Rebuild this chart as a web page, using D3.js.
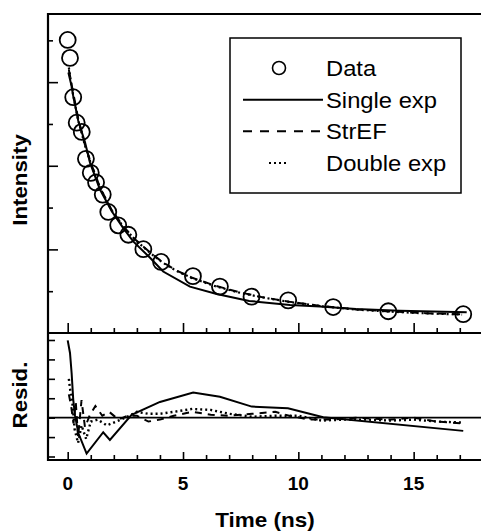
<!DOCTYPE html>
<html>
<head>
<meta charset="utf-8">
<script src="https://cdn.jsdelivr.net/npm/d3@7"></script>
<style>
  body { margin: 0; background: #fff; }
  svg { display: block; font-family: "Liberation Sans", Arial, sans-serif; }
</style>
</head>
<body>
<svg id="figur" width="481" height="532"></svg>
<script>
// measured decay (circles)
const dataTime = [0, 0.1, 0.24, 0.39, 0.61, 0.79, 1.0, 1.23, 1.52, 1.76, 2.19, 2.63, 3.28, 4.05, 5.43, 6.6, 7.97, 9.56, 11.51, 13.9, 17.15];
const dataIntensity = [7010, 6580, 5640, 5030, 4810, 4165, 3830, 3600, 3310, 2895, 2575, 2350, 2005, 1700, 1360, 1110, 870, 780, 620, 520, 450];

// fitted curves
const singleTime = [0.03, 0.17, 0.24, 0.46, 0.75, 0.97, 1.4, 1.91, 2.41, 2.84, 3.57, 4.14, 5.3, 6.46, 7.87, 9.64, 10.94, 12.5, 14.4, 17.3];
const singleIntensity = [6230, 5900, 5670, 5070, 4560, 4070, 3430, 2910, 2510, 2190, 1800, 1470, 1110, 935, 767, 671, 631, 575, 535, 496];
const fitTime = [0.05, 0.2, 0.45, 0.75, 1.0, 1.4, 1.9, 2.4, 2.9, 3.5, 4.1, 4.7, 5.4, 6.4, 7.4, 8.4, 9.6, 11.0, 12.5, 14.0, 15.5, 17.1];
const strefIntensity = [6300, 5850, 5150, 4500, 4080, 3480, 2950, 2560, 2250, 1960, 1700, 1500, 1320, 1130, 980, 860, 750, 645, 565, 515, 475, 445];
const doubleIntensity = [6350, 5800, 5100, 4480, 4060, 3470, 2940, 2550, 2240, 1950, 1690, 1490, 1310, 1120, 970, 855, 745, 640, 560, 510, 470, 440];

// residuals
const residSingleTime = [0, 0.1, 0.17, 0.24, 0.32, 0.46, 0.82, 1.54, 1.83, 2.77, 4.0, 5.44, 6.6, 7.98, 9.55, 11.08, 17.15];
const residSingle = [3.98, 3.33, 2.3, 0.93, 0.09, -0.79, -1.85, -0.75, -1.15, 0.15, 0.81, 1.3, 1.08, 0.57, 0.48, 0.02, -0.68];
const residStrefTime = [0.05, 0.15, 0.25, 0.35, 0.45, 0.6, 0.75, 0.95, 1.2, 1.5, 1.8, 2.2, 2.6, 3.0, 3.5, 4.0, 4.6, 5.4, 6.2, 7.0, 8.0, 9.0, 9.6, 10.5, 11.5, 12.5, 14, 15, 16, 17.1];
const residStref = [1.2, 0.6, -0.3, 0.8, -1.0, 0.9, -0.5, 0.1, 0.6, 0.1, 0.3, -0.1, 0.1, 0.1, -0.2, -0.1, 0.1, 0.3, 0.15, 0.1, 0.2, 0.3, 0.1, -0.1, -0.1, 0.0, -0.1, 0.0, -0.2, -0.3];
const residDoubleTime = [0.05, 0.1, 0.2, 0.3, 0.45, 0.6, 0.8, 1.0, 1.3, 1.7, 2.1, 2.5, 3.0, 3.5, 4.0, 4.6, 5.4, 6.2, 7.0, 8.0, 9.0, 10.0, 11.0, 12.0, 13.0, 14.0, 15.0, 16.0, 17.1];
const residDouble = [2.0, 1.5, 0.8, -0.6, -1.3, -0.4, -1.1, -0.2, -0.1, -0.4, -0.2, 0.0, 0.3, 0.2, 0.2, 0.3, 0.45, 0.4, 0.2, 0.05, 0.1, 0.1, -0.15, -0.1, -0.1, -0.15, -0.1, -0.2, -0.25];

const xTicks = [0, 5, 10, 15];
const intensityTicks = [1000, 2000, 3000, 4000, 5000, 6000, 7000];
const residTicks = [-2, -1, 0, 1, 2, 3, 4];
const legendNames = ["Data", "Single exp", "StrEF", "Double exp"];

const svg = d3.select("#figur");
const kantV = 48, kantH = 481, kantTopp = 14, kantMidt = 333, kantBunn = 460;

const x = d3.scaleLinear().domain([-0.854, 17.92]).range([kantV, kantH]);
const y = d3.scaleLinear().domain([0, 7630]).range([kantMidt, kantTopp]);
const yr = d3.scaleLinear().domain([-2.18, 4.36]).range([kantBunn, kantMidt]);

const zip = (a, b) => a.map((v, i) => [v, b[i]]);
const line = d3.line().x(d => x(d[0])).y(d => y(d[1]));
const rline = d3.line().x(d => x(d[0])).y(d => yr(d[1]));

// the scanned lettering is a little wider than Liberation Sans
function strekk(sel, f) {
  sel.each(function() {
    const w = this.getComputedTextLength();
    d3.select(this).attr("textLength", w * f).attr("lengthAdjust", "spacingAndGlyphs");
  });
}

// ticks, all pointing inward
svg.append("g").attr("transform", `translate(0,${kantMidt})`)
  .call(d3.axisTop(x).tickValues(d3.range(0, 18)).tickSize(5).tickFormat(""))
  .call(g => g.selectAll(".tick").filter(d => d % 5 === 0).select("line").attr("y2", -10));
svg.append("g").attr("transform", `translate(0,${kantBunn})`)
  .call(d3.axisTop(x).tickValues(d3.range(0, 18)).tickSize(5).tickFormat(""))
  .call(g => g.selectAll(".tick").filter(d => d % 5 === 0).select("line").attr("y2", -8));
svg.append("g").attr("transform", `translate(${kantV},0)`)
  .call(d3.axisRight(y).tickValues(intensityTicks).tickSize(5).tickFormat(""))
  .call(g => g.selectAll(".tick").filter(d => d % 2000 === 0).select("line").attr("x2", 10));
svg.append("g").attr("transform", `translate(${kantV},0)`)
  .call(d3.axisRight(yr).tickValues(residTicks).tickSize(7).tickFormat(""));
svg.selectAll(".domain").remove();
svg.selectAll(".tick line").attr("stroke", "#000").attr("stroke-width", 1.6);

// frame
svg.append("path").attr("fill", "none").attr("stroke", "#000").attr("stroke-width", 2.2)
  .attr("d", `M${kantH},${kantTopp} H${kantV} V${kantBunn} H${kantH} M${kantV},${kantMidt} H${kantH}`);
svg.append("line").attr("x1", kantV).attr("x2", kantH).attr("y1", yr(0)).attr("y2", yr(0))
  .attr("stroke", "#000").attr("stroke-width", 1.6);

// x tick labels
svg.append("g").selectAll("text").data(xTicks).join("text")
  .attr("x", d => x(d)).attr("y", 490).attr("text-anchor", "middle")
  .attr("font-size", 19).attr("font-weight", "bold").text(d => d);

// fits in the top panel
svg.append("path").datum(zip(fitTime, strefIntensity)).attr("d", line)
  .attr("fill", "none").attr("stroke", "#000").attr("stroke-width", 2).attr("stroke-dasharray", "8,6");
svg.append("path").datum(zip(fitTime, doubleIntensity)).attr("d", line)
  .attr("fill", "none").attr("stroke", "#000").attr("stroke-width", 2.2).attr("stroke-dasharray", "2,3");
svg.append("path").datum(zip(singleTime, singleIntensity)).attr("d", line)
  .attr("fill", "none").attr("stroke", "#000").attr("stroke-width", 2);

svg.append("g").selectAll("circle").data(zip(dataTime, dataIntensity)).join("circle")
  .attr("cx", d => x(d[0])).attr("cy", d => y(d[1])).attr("r", 8)
  .attr("fill", "none").attr("stroke", "#000").attr("stroke-width", 1.8);

// residuals
svg.append("path").datum(zip(residStrefTime, residStref)).attr("d", rline)
  .attr("fill", "none").attr("stroke", "#000").attr("stroke-width", 2).attr("stroke-dasharray", "7,6");
svg.append("path").datum(zip(residDoubleTime, residDouble)).attr("d", rline)
  .attr("fill", "none").attr("stroke", "#000").attr("stroke-width", 2.4).attr("stroke-dasharray", "2,3");
svg.append("path").datum(zip(residSingleTime, residSingle)).attr("d", rline)
  .attr("fill", "none").attr("stroke", "#000").attr("stroke-width", 2);

// axis titles
svg.append("text").attr("transform", "translate(27,180) rotate(-90)").attr("text-anchor", "middle")
  .attr("font-size", 21).attr("font-weight", "bold").text("Intensity").call(strekk, 1.06);
svg.append("text").attr("transform", "translate(27,395) rotate(-90)").attr("text-anchor", "middle")
  .attr("font-size", 21).attr("font-weight", "bold").text("Resid.").call(strekk, 1.06);
svg.append("text").attr("x", 265).attr("y", 527).attr("text-anchor", "middle")
  .attr("font-size", 21).attr("font-weight", "bold").text("Time (ns)").call(strekk, 1.07);

// legend
const lg = svg.append("g");
lg.append("rect").attr("x", 230).attr("y", 38).attr("width", 231).attr("height", 155)
  .attr("fill", "#fff").attr("stroke", "#000").attr("stroke-width", 1.5);
const rowY = d3.scalePoint().domain(legendNames).range([68, 163]);
lg.append("circle").attr("cx", 279).attr("cy", rowY("Data")).attr("r", 6.5)
  .attr("fill", "none").attr("stroke", "#000").attr("stroke-width", 1.6);
lg.append("line").attr("x1", 243).attr("x2", 323).attr("y1", rowY("Single exp")).attr("y2", rowY("Single exp"))
  .attr("stroke", "#000").attr("stroke-width", 2);
lg.append("line").attr("x1", 243).attr("x2", 323).attr("y1", rowY("StrEF")).attr("y2", rowY("StrEF"))
  .attr("stroke", "#000").attr("stroke-width", 2).attr("stroke-dasharray", "9,8");
lg.append("line").attr("x1", 269).attr("x2", 289).attr("y1", rowY("Double exp")).attr("y2", rowY("Double exp"))
  .attr("stroke", "#000").attr("stroke-width", 2).attr("stroke-dasharray", "2,3");
lg.selectAll("text").data(legendNames).join("text")
  .attr("x", 326).attr("y", d => rowY(d) + 8).attr("font-size", 22).text(d => d)
  .call(strekk, 1.08);
</script>
</body>
</html>
